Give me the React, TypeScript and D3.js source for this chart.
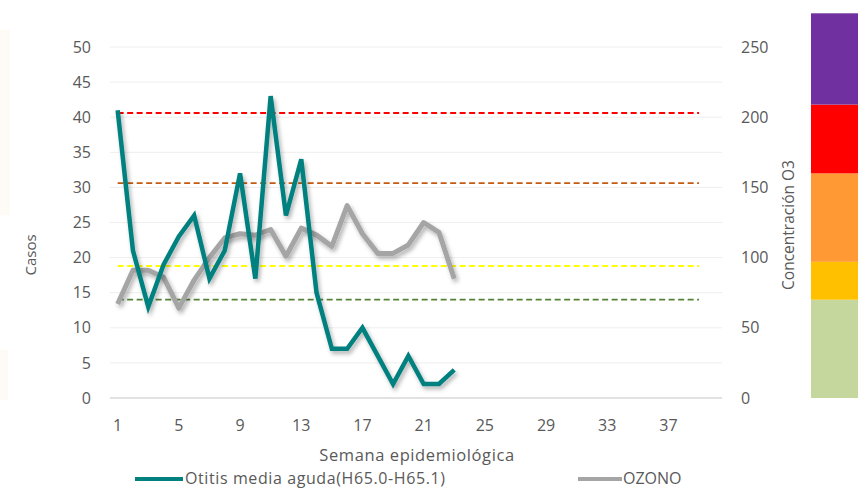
import React from 'react';
import * as d3 from 'd3';

// semanas epidemiológicas 1..40
const weeks = d3.range(1, 41);
const weekTicks = [1, 5, 9, 13, 17, 21, 25, 29, 33, 37];

// casos de otitis media aguda (eje izquierdo)
const otitis = [41, 21, 13, 19, 23, 26, 17, 21, 32, 17, 43, 26, 34, 15, 7, 7, 10, 6, 2, 6, 2, 2, 4];

// concentración de ozono (eje derecho)
const ozono = [67, 91, 91, 86, 64, 84, 100, 114, 117, 116, 120, 101, 121, 116, 108, 137, 117, 103, 103, 109, 125, 118, 85];

const leftTicks = [0, 5, 10, 15, 20, 25, 30, 35, 40, 45, 50];
const rightTicks = [0, 50, 100, 150, 200, 250];

// umbrales de O3 (eje derecho)
const thresholds = [
  { value: 203, color: '#FF0000' },
  { value: 153, color: '#C55A11' },
  { value: 94, color: '#FFFF00' },
  { value: 70, color: '#548235' },
];

// barra de colores a la derecha (límites en unidades de O3)
const bandStops = [0, 70, 97, 160, 209, 274];
const bandColors = ['#C5D79C', '#FFC000', '#FF9933', '#FF0000', '#7030A0'];

const W = 866;
const H = 490;

const App = () => {
  const x = d3.scaleBand<number>().domain(weeks).range([110, 722]).padding(0);
  const cx = (w: number) => (x(w) as number) + x.bandwidth() / 2;
  const yL = d3.scaleLinear().domain([0, 50]).range([398, 47]);
  const yR = d3.scaleLinear().domain([0, 250]).range([398, 47]);

  const lineL = d3.line<number>().x((d, i) => cx(i + 1)).y(d => yL(d));
  const lineR = d3.line<number>().x((d, i) => cx(i + 1)).y(d => yR(d));

  const font = "'Open Sans', sans-serif";
  const tickColor = '#595959';

  return (
    <svg width={W} height={H} style={{ position: 'absolute', left: 0, top: 0, background: '#fff' }}>
      <defs>
        <filter id="shadow" x="-10%" y="-10%" width="120%" height="130%">
          <feDropShadow dx="2" dy="3" stdDeviation="2" floodColor="#000" floodOpacity="0.3" />
        </filter>
      </defs>

      {/* marca de agua tenue */}
      <rect x={0} y={30} width={10} height={185} fill="#FEFAF6" />
      <rect x={0} y={350} width={8} height={50} fill="#FEFAF6" />

      {/* rejilla */}
      {leftTicks.map(t => (
        <line key={'g' + t} x1={110} x2={722} y1={yL(t)} y2={yL(t)}
          stroke={t === 0 ? '#D9D9D9' : '#EEEEEE'} strokeWidth={t === 0 ? 1.5 : 1} />
      ))}

      {/* umbrales */}
      {thresholds.map(th => (
        <line key={th.color} x1={cx(1)} x2={cx(39)} y1={yR(th.value)} y2={yR(th.value)}
          stroke={th.color} strokeWidth={1.8} strokeDasharray="6,3.5" />
      ))}

      {/* series */}
      <path d={lineR(ozono) || ''} fill="none" stroke="#A5A5A5" strokeWidth={5}
        strokeLinejoin="round" filter="url(#shadow)" />
      <path d={lineL(otitis) || ''} fill="none" stroke="#00807F" strokeWidth={4.5}
        strokeLinejoin="miter" filter="url(#shadow)" />

      {/* eje izquierdo */}
      {leftTicks.map(t => (
        <text key={'l' + t} x={91} y={yL(t)} dy="0.35em" textAnchor="end"
          fontFamily={font} fontSize={16} fill={tickColor}>{t}</text>
      ))}
      <text transform="translate(36,255) rotate(-90)" textAnchor="middle"
        fontFamily={font} fontSize={15} fill={tickColor}>Casos</text>

      {/* eje derecho */}
      {rightTicks.map(t => (
        <text key={'r' + t} x={741} y={yR(t)} dy="0.35em" textAnchor="start"
          fontFamily={font} fontSize={16} fill={tickColor}>{t}</text>
      ))}
      <text transform="translate(794,225) rotate(-90)" textAnchor="middle"
        fontFamily={font} fontSize={15.5} fill={tickColor}>Concentración O3</text>

      {/* eje x */}
      {weekTicks.map(w => (
        <text key={'x' + w} x={cx(w)} y={425} dy="0.35em" textAnchor="middle"
          fontFamily={font} fontSize={16} fill={tickColor}>{w}</text>
      ))}
      <text x={417} y={455} dy="0.35em" textAnchor="middle" letterSpacing={0.6}
        fontFamily={font} fontSize={16.5} fill={tickColor}>Semana epidemiológica</text>

      {/* leyenda */}
      <line x1={135} x2={183} y1={479} y2={479} stroke="#00807F" strokeWidth={4} />
      <text x={185} y={478} dy="0.35em" letterSpacing={0.6} fontFamily={font} fontSize={16} fill={tickColor}>
        Otitis media aguda(H65.0-H65.1)
      </text>
      <line x1={578} x2={622} y1={479} y2={479} stroke="#A5A5A5" strokeWidth={4} />
      <text x={623} y={478} dy="0.35em" fontFamily={font} fontSize={16} fill={tickColor}>OZONO</text>

      {/* barra de niveles */}
      {bandColors.map((c, i) => (
        <rect key={c} x={811} width={47} y={yR(bandStops[i + 1])}
          height={yR(bandStops[i]) - yR(bandStops[i + 1])} fill={c} />
      ))}
    </svg>
  );
};

export default App;
